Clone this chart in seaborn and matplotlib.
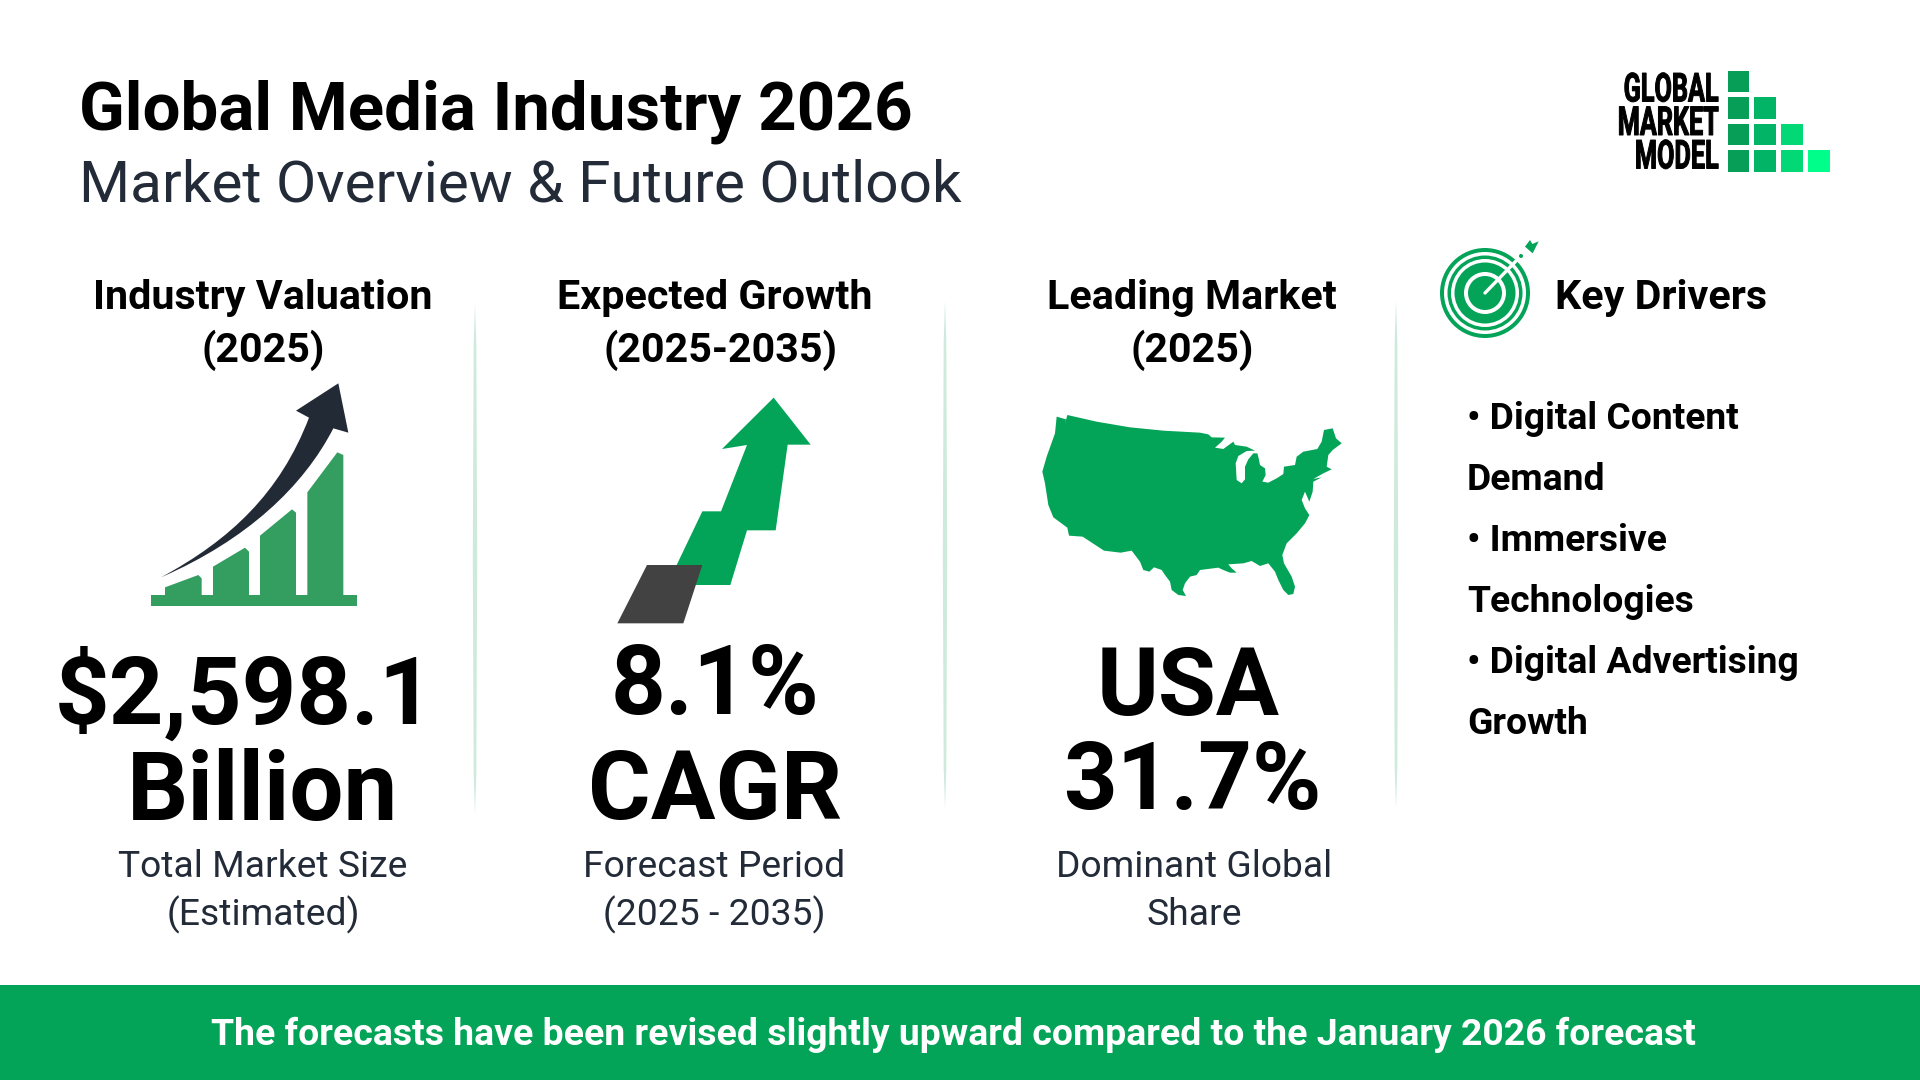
"""
Global Media Industry 2026 - market overview infographic
"""

import matplotlib
matplotlib.use('Agg')
import matplotlib.pyplot as plt
import numpy as np
import seaborn as sns
from matplotlib.colors import ListedColormap
from matplotlib.patches import Circle, PathPatch, Polygon, Rectangle
from matplotlib.patheffects import AbstractPathEffect
from matplotlib.path import Path
from matplotlib.transforms import Affine2D

# ============================================================================
# DATA
# ============================================================================

TITLE = 'Global Media Industry 2026'
SUBTITLE = 'Market Overview & Future Outlook'

headers = [['Industry Valuation', '(2025)'], ['Expected Growth', '(2025-2035)'], ['Leading Market', '(2025)']]
big_values = [['$2,598.1', 'Billion'], ['8.1%', 'CAGR'], ['USA', '31.7%']]
captions = [['Total Market Size', '(Estimated)'], ['Forecast Period', '(2025 - 2035)'], ['Dominant Global', 'Share']]
driver_lines = ['• Digital Content', 'Demand', '• Immersive', 'Technologies', '• Digital Advertising', 'Growth']
footer = 'The forecasts have been revised slightly upward compared to the January 2026 forecast'
logo_words = ['GLOBAL', 'MARKET', 'MODEL']

# logo staircase, value = shade step, nan = empty cell
logo_cells = [
    [0, np.nan, np.nan, np.nan],
    [0, 1, np.nan, np.nan],
    [0, 1, 2, np.nan],
    [0, 1, 2, 3],
]
logo_colors = ['#079f58', '#02b566', '#02d876', '#00ff8a']

GREEN = '#03a458'
INK = '#000000'
SLATE = '#232b38'

# ============================================================================
# SETUP
# ============================================================================

sns.set_theme(style='white')
plt.rcParams['font.family'] = ['Roboto', 'DejaVu Sans']

fig = plt.figure(figsize=(19.2, 10.8), dpi=100, facecolor='white')
ax = fig.add_axes([0, 0, 1, 1])
ax.set_xlim(0, 1920)
ax.set_ylim(1080, 0)
ax.axis('off')


def px(size):
    # font size from pixels to points
    return size * 72 / 100


class Squeeze(AbstractPathEffect):
    # condensed tall look for the logo, there is no condensed font here
    def __init__(self, x0, y0, sx, sy):
        super().__init__()
        self.x0 = x0
        self.y0 = y0
        self.sx = sx
        self.sy = sy

    def draw_path(self, renderer, gc, tpath, affine, rgbFace=None):
        t = affine + Affine2D().translate(-self.x0, -self.y0).scale(self.sx, self.sy).translate(self.x0, self.y0)
        gc0 = renderer.new_gc()
        gc0.copy_properties(gc)
        gc0.set_linewidth(0.7)
        gc0.set_foreground('black')
        renderer.draw_path(gc0, tpath, t, rgbFace)
        gc0.restore()


def label(x, y, s, size, weight='normal', color=INK, ha='center'):
    return ax.text(x, y, s, fontsize=px(size), fontweight=weight, color=color,
                   ha=ha, va='baseline')


def poly(points, origin, color, z=2, k=3):
    pts = [(origin[0] + a / k, origin[1] + b / k) for a, b in points]
    ax.add_patch(Polygon(pts, closed=True, facecolor=color, edgecolor='none', zorder=z))


# ============================================================================
# HEADER + LOGO
# ============================================================================

label(79, 129, TITLE, 67.2, 'bold', ha='left')
label(79, 202, SUBTITLE, 58.45, color=SLATE, ha='left')

logo_ax = fig.add_axes([1724.5 / 1920, 1 - 174 / 1080, 107 / 1920, 106.5 / 1080])
sns.heatmap(np.array(logo_cells), ax=logo_ax, cmap=ListedColormap(logo_colors), vmin=-0.5, vmax=3.5,
            cbar=False, linewidths=2.2, linecolor='white', xticklabels=False, yticklabels=False)

for word, base in zip(logo_words, [101.5, 135, 168.5]):
    t = label(1719, base, word, 29, 'bold', ha='right')
    t.set_path_effects([Squeeze(1719, 1080 - base, 0.87, 1.38)])

# ============================================================================
# COLUMN TEXT
# ============================================================================

header_x = [[263, 263], [715, 720], [1192, 1192]]
for xs, lines in zip(header_x, headers):
    label(xs[0], 309, lines[0], 41.3, 'bold')
    label(xs[1], 362, lines[1], 41.3, 'bold')

big_pos = [[(244.5, 724), (263, 820)], [(715, 714), (715, 819)], [(1188, 715), (1192, 809)]]
big_size = [[95.5, 96], [96, 96], [94, 94]]
for spots, sizes, lines in zip(big_pos, big_size, big_values):
    for (x, y), size, s in zip(spots, sizes, lines):
        label(x, y, s, size, 'bold')

for cx, lines in zip([263, 714, 1194], captions):
    label(cx, 877, lines[0], 37.3, color=SLATE)
    label(cx, 925, lines[1], 37.3, color=SLATE)

label(1555, 309, 'Key Drivers', 41.3, 'bold', ha='left')
for line, base in zip(driver_lines, [429, 490, 551, 612, 673, 734]):
    label(1467, base, line, 37.3, 'bold', ha='left')

# ============================================================================
# DIVIDERS + FOOTER
# ============================================================================

for x, top, bottom in [(475, 304, 814), (945, 301, 808), (1396, 301, 808)]:
    mid = (top + bottom) / 2
    ax.add_patch(Polygon([(x, top), (x + 1.3, top + 40), (x + 2.2, mid), (x + 1.3, bottom - 40), (x, bottom),
                          (x - 1.3, bottom - 40), (x - 2.2, mid), (x - 1.3, top + 40)], closed=True,
                         facecolor='#cdeadc', edgecolor='none', zorder=1))

ax.add_patch(Rectangle((0, 985), 1920, 95, facecolor=GREEN, edgecolor='none', zorder=2))
label(953, 1045, footer, 37.4, 'bold', color='white').set_zorder(3)

# ============================================================================
# ICON 1: rising bars with arrow
# ============================================================================

o1 = (130, 370)
BAR = '#339e60'
poly([(63, 675), (681, 675), (681, 708), (63, 708)], o1, BAR)
poly([(105, 652), (205, 615), (215, 625), (215, 680), (105, 680)], o1, BAR)
poly([(249, 590), (345, 533), (357, 545), (357, 680), (249, 680)], o1, BAR)
poly([(390, 497), (486, 418), (498, 428), (498, 680), (390, 680)], o1, BAR)
poly([(532, 367), (622, 247), (640, 255), (640, 680), (532, 680)], o1, BAR)

arrow_xy = [(93, 622), (300, 510), (450, 370), (537, 143), (498, 122), (625, 40), (655, 188), (610, 175),
            (520, 350), (350, 510), (93, 622)]
arrow_codes = [Path.MOVETO, Path.CURVE4, Path.CURVE4, Path.CURVE4, Path.LINETO, Path.LINETO, Path.LINETO,
               Path.LINETO, Path.CURVE4, Path.CURVE4, Path.CURVE4]
arrow_pts = [(o1[0] + a / 3, o1[1] + b / 3) for a, b in arrow_xy]
ax.add_patch(PathPatch(Path(arrow_pts, arrow_codes), facecolor='#222a35', edgecolor='none', zorder=3))

# ============================================================================
# ICON 2: stepped arrow
# ============================================================================

o2 = (600, 380)
poly([(521, 53), (632, 194), (563, 194), (527, 451), (441, 451), (391, 615), (270, 615), (230, 555),
      (307, 394), (363, 394), (441, 195), (366, 207)], o2, GREEN)
poly([(141, 555), (307, 555), (250, 730), (52, 730)], o2, '#424242', z=3)

# ============================================================================
# ICON 3: USA outline
# ============================================================================

usa = [(80, 50), (108, 58), (104, 75), (112, 45), (200, 65), (300, 82), (400, 92), (510, 98), (535, 103),
       (545, 112), (585, 113), (575, 125), (555, 143), (580, 147), (610, 125), (615, 135), (650, 140),
       (675, 152), (650, 153), (625, 168), (617, 190), (620, 240), (635, 250), (645, 238), (645, 200),
       (655, 178), (670, 160), (682, 160), (686, 175), (690, 195), (705, 205), (707, 225), (697, 245),
       (715, 248), (740, 235), (760, 222), (762, 200), (795, 195), (800, 170), (820, 155), (862, 147),
       (875, 125), (882, 90), (908, 85), (918, 115), (935, 130), (908, 150), (895, 165), (890, 200),
       (905, 208), (880, 220), (850, 237), (875, 232), (850, 245), (848, 275), (838, 305), (825, 275),
       (815, 300), (825, 325), (838, 345), (825, 370), (800, 400), (770, 430), (757, 465), (762, 490),
       (785, 530), (795, 560), (790, 582), (775, 585), (760, 570), (745, 540), (735, 515), (715, 490),
       (690, 498), (665, 483), (640, 490), (595, 493), (605, 505), (620, 518), (600, 518), (580, 510),
       (565, 503), (510, 510), (500, 525), (480, 530), (465, 550), (458, 570), (468, 588), (445, 585),
       (425, 570), (420, 545), (405, 525), (395, 510), (372, 502), (358, 515), (340, 510), (330, 485),
       (305, 452), (272, 458), (222, 452), (158, 410), (117, 407), (112, 383), (70, 352), (55, 315),
       (45, 250), (37, 215), (50, 170), (75, 100)]
poly(usa, (1030, 400), GREEN)

# ============================================================================
# ICON 4: target
# ============================================================================

cx, cy = 1485, 293
for r, c in [(45, GREEN), (41, 'white'), (37.5, GREEN), (34, 'white'), (30.5, GREEN), (21, 'white'), (17, GREEN)]:
    ax.add_patch(Circle((cx, cy), r, facecolor=c, edgecolor='none', zorder=2))
ax.plot([cx, 1517], [cy, 260], color='white', lw=2.4, zorder=3, solid_capstyle='round')
ax.add_patch(Circle((1521, 256), 2, facecolor=GREEN, edgecolor='none', zorder=3))
poly([(285, 50), (300, 30), (307, 42), (326, 34), (308, 70)], (1430, 230), GREEN, z=3)

plt.savefig('out.png', dpi=100)
plt.close()
